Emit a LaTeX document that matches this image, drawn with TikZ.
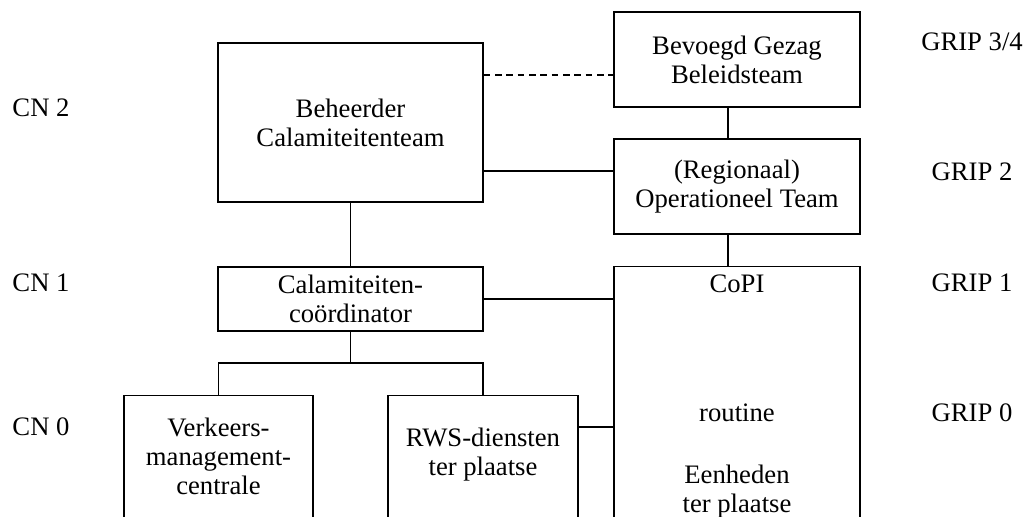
\documentclass[tikz,border=0pt]{standalone}
\usepackage{fontspec}
\setmainfont{Liberation Serif}
\def\pxunit{0.75pt}
\begin{document}
\begin{tikzpicture}[x=0.75pt,y=-0.75pt,
  boxst/.style={draw,line width=1pt,inner sep=0pt,align=center,font=\fontsize{20}{21.75}\selectfont},
  txt/.style={inner sep=0pt,align=center,font=\fontsize{20}{21.75}\selectfont},
  link/.style={line width=1pt},
  dlink/.style={line width=1pt,dash pattern=on 5pt off 3.5pt}]
\useasboundingbox (0,0) rectangle (1025,517);
\clip (0,0) rectangle (1025,517);
% boxes
\node[boxst,minimum width=265*\pxunit,minimum height=159*\pxunit] (beh) at (350.5,122.5) {Beheerder\\Calamiteitenteam};
\node[boxst,minimum width=246*\pxunit,minimum height=95*\pxunit] (bev) at (737,59.5) {Bevoegd Gezag\\Beleidsteam};
\node[boxst,minimum width=246*\pxunit,minimum height=95*\pxunit] (ot) at (737,186.5) {(Regionaal)\\Operationeel Team};
\node[boxst,minimum width=265*\pxunit,minimum height=64*\pxunit] (cal) at (350.5,299) {Calamiteiten-\\coördinator};
\node[boxst,minimum width=246*\pxunit,minimum height=300*\pxunit,anchor=north] (copi) at (737,266) {};
\node[boxst,minimum width=189*\pxunit,minimum height=130*\pxunit,anchor=north] (vmc) at (218.5,395) {};
\node[boxst,minimum width=190*\pxunit,minimum height=130*\pxunit,anchor=north] (rws) at (483,395) {};
% texts inside open boxes
\node[txt] (vmct) at (218.5,456) {Verkeers-\\management-\\centrale};
\node[txt] (rwst) at (483,455) {RWS-diensten\\ter plaatse};
\node[txt] (copit) at (737,284) {CoPI};
\node[txt] (rout) at (737,413) {routine};
\node[txt] (eenh) at (737,492) {Eenheden\\ter plaatse};
% level labels
\node[txt] (cn2) at (41,108) {CN 2};
\node[txt] (cn1) at (41,283) {CN 1};
\node[txt] (cn0) at (41,427) {CN 0};
\node[txt] (g34) at (972,42) {GRIP 3/4};
\node[txt] (g2) at (972,172) {GRIP 2};
\node[txt] (g1) at (972,283) {GRIP 1};
\node[txt] (g0) at (972,413) {GRIP 0};
% helper coordinates
\coordinate (dy) at (0,75);
\coordinate (sy) at (0,171);
\coordinate (vx) at (728,0);
\coordinate (bar) at (0,363);
\coordinate (ry) at (0,427);
% connectors
\draw[dlink] (beh.east |- dy) -- (bev.west |- dy);
\draw[link] (beh.east |- sy) -- (ot.west |- sy);
\draw[link] (bev.south -| vx) -- (ot.north -| vx);
\draw[link] (ot.south -| vx) -- (copi.north -| vx);
\draw[link] (beh.south) -- (cal.north);
\draw[link] (cal.east) -- (cal.east -| copi.west);
\draw[link] (cal.south) -- (cal.south |- bar);
\draw[link] (vmc.north) -- (vmc.north |- bar) -- (rws.north |- bar) -- (rws.north);
\draw[link] (rws.east |- ry) -- (copi.west |- ry);
\end{tikzpicture}
\end{document}
